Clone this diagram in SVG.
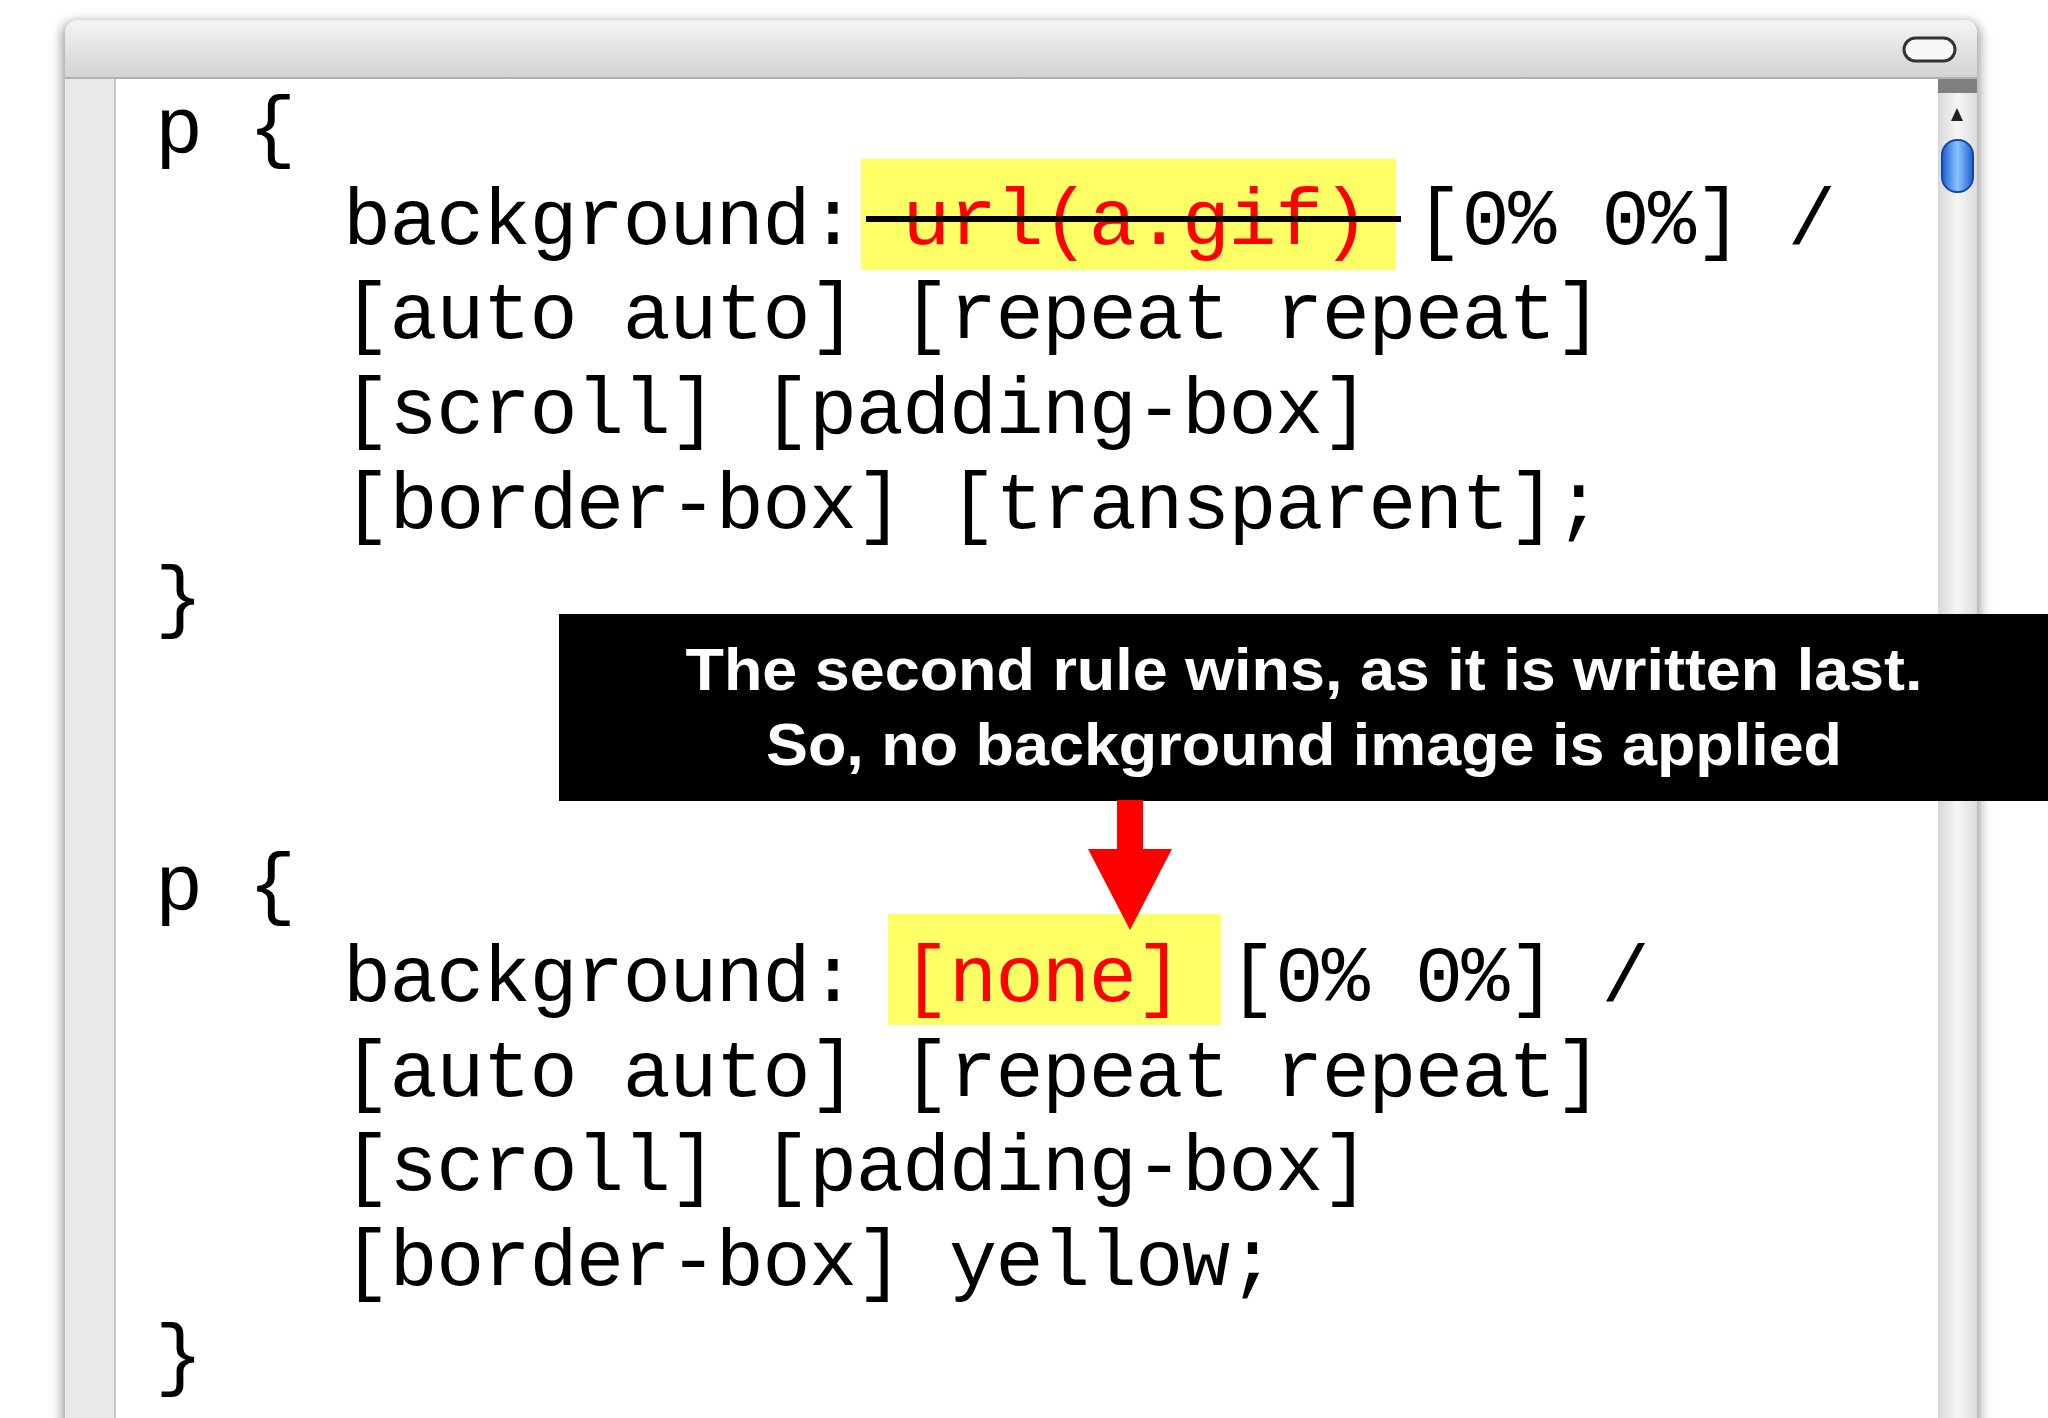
<svg xmlns="http://www.w3.org/2000/svg" width="2048" height="1418" viewBox="0 0 2048 1418">
<defs>
<linearGradient id="tb" x1="0" y1="0" x2="0" y2="1"><stop offset="0" stop-color="#f4f4f4"/><stop offset="1" stop-color="#d2d2d2"/></linearGradient>
<linearGradient id="sb" x1="0" y1="0" x2="1" y2="0"><stop offset="0" stop-color="#d8d8d8"/><stop offset="0.5" stop-color="#f6f6f6"/><stop offset="1" stop-color="#dcdcdc"/></linearGradient>
<linearGradient id="th" x1="0" y1="0" x2="1" y2="0"><stop offset="0" stop-color="#1a5fd0"/><stop offset="0.5" stop-color="#8cc4ff"/><stop offset="1" stop-color="#1a5fd0"/></linearGradient>
<filter id="sh" x="-5%" y="-5%" width="110%" height="110%"><feGaussianBlur stdDeviation="6"/></filter>
<style>
.code{font-family:"Liberation Mono","Courier New",monospace;font-size:80px;letter-spacing:-1.4px;fill:#000}
.red{fill:#ff0000}
.cap{font-family:"Liberation Sans",Arial,sans-serif;font-weight:bold;font-size:60px;fill:#fff;text-anchor:middle}
</style>
</defs>
<rect width="2048" height="1418" fill="#fff"/>
<g id="window">
<rect x="62" y="22" width="1918" height="1420" rx="14" fill="#999" filter="url(#sh)"/>
<rect x="65" y="20" width="1912" height="1420" rx="14" fill="#e9e9e9"/>
<path d="M65,78 V34 Q65,20 79,20 H1963 Q1977,20 1977,34 V78 Z" fill="url(#tb)"/>
<line x1="65" y1="78" x2="1977" y2="78" stroke="#b0b0b0" stroke-width="2"/>
<rect x="115" y="79" width="1823" height="1340" fill="#fff"/>
<line x1="115" y1="79" x2="115" y2="1418" stroke="#c8c8c8" stroke-width="2"/>
<rect x="1904" y="38" width="51" height="23" rx="11.5" fill="#f8f8f8" stroke="#333" stroke-width="3"/>
<rect x="1938" y="79" width="39" height="1340" fill="url(#sb)"/>
<rect x="1938" y="79" width="39" height="14" fill="#808080"/>
<polygon points="1957,108 1951,121 1963,121" fill="#222"/>
<rect x="1942" y="140" width="31" height="52" rx="15" fill="url(#th)" stroke="#1446a8" stroke-width="2"/>
</g>
<g id="rule1">
<rect x="861" y="159" width="535" height="111" fill="#ffff66"/>
<text class="code" x="155" y="152">p {</text>
<text class="code" x="343" y="244">background: <tspan class="red">url(a.gif)</tspan> [0% 0%] /</text>
<line x1="866" y1="219" x2="1401" y2="219" stroke="#000" stroke-width="6"/>
<text class="code" x="343" y="338">[auto auto] [repeat repeat]</text>
<text class="code" x="343" y="433">[scroll] [padding-box]</text>
<text class="code" x="343" y="528">[border-box] [transparent];</text>
<text class="code" x="155" y="622">}</text>
</g>
<g id="rule2">
<rect x="888" y="914" width="333" height="111" fill="#ffff66"/>
<text class="code" x="155" y="909">p {</text>
<text class="code" x="343" y="1001">background: <tspan class="red">[none]</tspan> [0% 0%] /</text>
<text class="code" x="343" y="1096">[auto auto] [repeat repeat]</text>
<text class="code" x="343" y="1190">[scroll] [padding-box]</text>
<text class="code" x="343" y="1285">[border-box] yellow;</text>
<text class="code" x="155" y="1380">}</text>
</g>
<g id="callout">
<rect x="559" y="614" width="1489" height="187" fill="#000"/>
<text class="cap" x="1304" y="690" textLength="1237" lengthAdjust="spacingAndGlyphs">The second rule wins, as it is written last.</text>
<text class="cap" x="1304" y="765" textLength="1076" lengthAdjust="spacingAndGlyphs">So, no background image is applied</text>
</g>
<g id="connectors">
<rect x="1117" y="800" width="26" height="50" fill="#ff0000"/>
<polygon points="1088,849 1172,849 1130,930" fill="#ff0000"/>
</g>
</svg>
